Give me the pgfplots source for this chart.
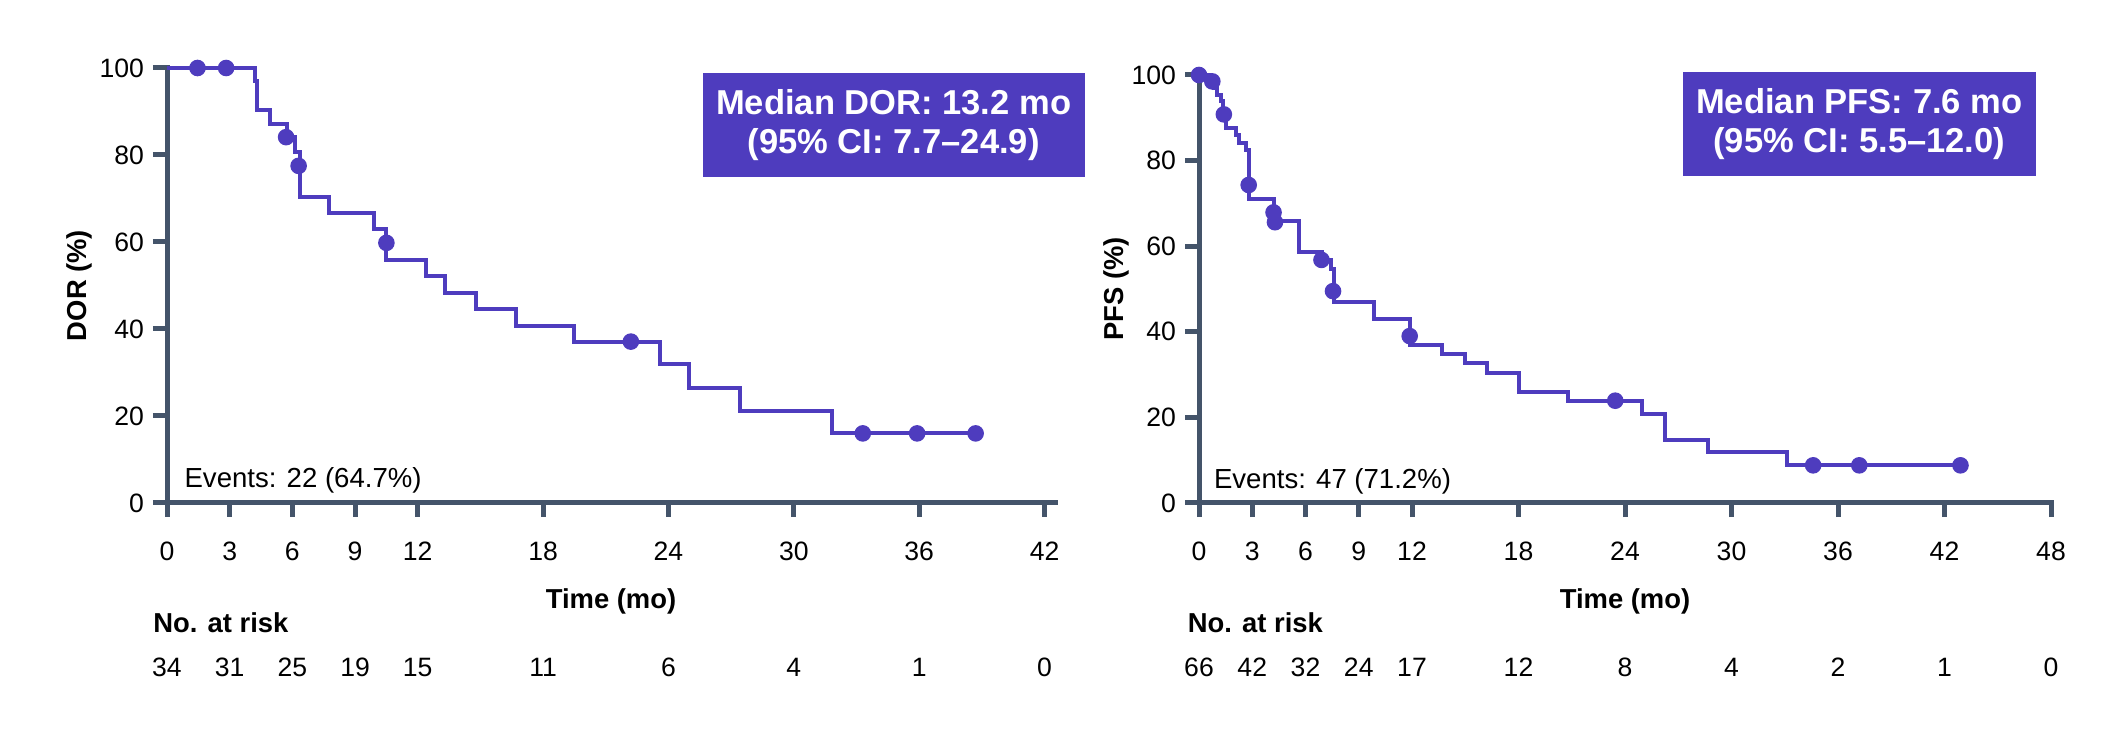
\documentclass[border=0pt]{standalone}
\usepackage{fontspec}
\setmainfont{Liberation Sans}
\usepackage{pgfplots}
\pgfplotsset{compat=1.18}
\definecolor{km}{RGB}{78,60,190}
\definecolor{ax}{RGB}{68,84,106}
\tikzset{risk/.style={anchor=base, inner sep=0pt, font=\fontsize{8}{9.6}\selectfont}}

\pgfplotstableread{
x y
0 100
4.2 97.0
4.3 90.4
4.94 87.2
5.75 84.1
6.14 80.6
6.35 70.4
7.75 66.7
9.91 63.1
10.5 55.8
12.4 52.1
13.3 48.3
14.8 44.5
16.7 40.8
19.5 37.1
23.6 31.9
24.96 26.5
27.4 21.2
31.85 16.0
38.7 16.0
}\dorcurve
\pgfplotstableread{
x y
1.46 100
2.83 100
5.7 84.1
6.3 77.5
10.5 59.8
22.2 37.1
33.3 16.0
35.9 16.0
38.7 16.0
}\dorcens
\pgfplotstableread{
x y
0 100
0.6 98.5
0.85 97.0
1.0 95.3
1.25 93.9
1.35 90.8
1.5 87.6
2.07 86.0
2.25 84.1
2.65 82.5
2.8 71.0
4.25 65.8
5.64 58.6
6.95 56.8
7.45 54.6
7.6 47.0
9.84 43.1
11.9 36.9
13.7 34.7
14.97 32.6
16.2 30.4
18.0 26.0
20.8 23.9
24.93 20.9
26.25 14.8
28.7 11.8
33.1 8.8
42.9 8.8
}\pfscurve
\pgfplotstableread{
x y
0 100
0.75 98.5
1.4 90.8
2.8 74.3
4.2 67.9
4.28 65.6
6.9 56.8
7.55 49.5
11.87 39.0
23.45 23.9
34.6 8.8
37.2 8.8
42.9 8.8
}\pfscens

\pgfplotsset{kmaxis/.style={
  scale only axis,
  axis lines=left,
  axis line style={-, line width=1.5bp, color=ax, line cap=rect},
  every outer x axis line/.append style={-},
  every outer y axis line/.append style={-},
  tick align=outside,
  major tick length=4.2bp,
  major tick style={line width=1.5bp, color=ax},
  ymin=0, ymax=100, ytick={0,20,40,60,80,100},
  xmin=0,
  clip=false,
  tick label style={font=\fontsize{8}{9.6}\selectfont, text=black},
  /pgf/number format/assume math mode=true,
  xticklabel style={yshift=-3.9bp},
  yticklabel style={xshift=0.8bp},
  xlabel style={font=\bfseries\fontsize{8.25}{10}\selectfont, at={(axis description cs:0.5,0)}, anchor=center, yshift=-29.4bp},
  ylabel style={font=\bfseries\fontsize{8.25}{10}\selectfont, anchor=center},
  xlabel={Time (mo)},
}}

\begin{document}
\begin{tikzpicture}
\path[use as bounding box] (0,0) rectangle (638.1bp,219.9bp);

% ---------- Left: DOR ----------
\begin{axis}[kmaxis,
  at={(50.1bp,69bp)}, anchor=south west,
  width=266.4bp, height=130.5bp,
  xmax=42.5,
  xtick={0,3,6,9,12,18,24,30,36,42},
  ylabel={DOR (\%)},
  ylabel style={at={(axis description cs:-0.099,0.5)}},
]
\addplot[const plot, color=km, line width=1.2bp] table[x=x,y=y] {\dorcurve};
\addplot[only marks, mark=*, mark size=2.3pt, color=km] table[x=x,y=y] {\dorcens};
\node[anchor=base west, inner sep=0pt, font=\fontsize{8.3}{10}\selectfont] at (axis cs:0.81,3.45) {Events: 22 (64.7\%)};
\node[fill=km, text=white, font=\bfseries\fontsize{10.4}{11.7}\selectfont, align=center, minimum width=114.6bp, minimum height=31.4bp, inner sep=0pt] at (axis cs:34.78,86.9) {Median DOR: 13.2 mo\\(95\% CI: 7.7–24.9)};
\node[anchor=west, inner sep=0pt, font=\bfseries\fontsize{8.25}{10}\selectfont] at (axis cs:-0.68,-27.6) {No. at risk};
\node[risk] at (axis cs:0,-40.0) {34};
\node[risk] at (axis cs:3,-40.0) {31};
\node[risk] at (axis cs:6,-40.0) {25};
\node[risk] at (axis cs:9,-40.0) {19};
\node[risk] at (axis cs:12,-40.0) {15};
\node[risk] at (axis cs:18,-40.0) {11};
\node[risk] at (axis cs:24,-40.0) {6};
\node[risk] at (axis cs:30,-40.0) {4};
\node[risk] at (axis cs:36,-40.0) {1};
\node[risk] at (axis cs:42,-40.0) {0};
\end{axis}

% ---------- Right: PFS ----------
\begin{axis}[kmaxis,
  at={(359.7bp,69bp)}, anchor=south west,
  width=255.6bp, height=128.4bp,
  xmax=48,
  xtick={0,3,6,9,12,18,24,30,36,42,48},
  ylabel={PFS (\%)},
  ylabel style={at={(axis description cs:-0.0974,0.5)}},
]
\addplot[const plot, color=km, line width=1.2bp] table[x=x,y=y] {\pfscurve};
\addplot[only marks, mark=*, mark size=2.3pt, color=km] table[x=x,y=y] {\pfscens};
\node[anchor=base west, inner sep=0pt, font=\fontsize{8.3}{10}\selectfont] at (axis cs:0.81,3.43) {Events: 47 (71.2\%)};
\node[fill=km, text=white, font=\bfseries\fontsize{10.4}{11.7}\selectfont, align=center, minimum width=106bp, minimum height=31.2bp, inner sep=0pt] at (axis cs:37.2,88.45) {Median PFS: 7.6 mo\\(95\% CI: 5.5–12.0)};
\node[anchor=west, inner sep=0pt, font=\bfseries\fontsize{8.25}{10}\selectfont] at (axis cs:-0.66,-28.0) {No. at risk};
\node[risk] at (axis cs:0,-40.65) {66};
\node[risk] at (axis cs:3,-40.65) {42};
\node[risk] at (axis cs:6,-40.65) {32};
\node[risk] at (axis cs:9,-40.65) {24};
\node[risk] at (axis cs:12,-40.65) {17};
\node[risk] at (axis cs:18,-40.65) {12};
\node[risk] at (axis cs:24,-40.65) {8};
\node[risk] at (axis cs:30,-40.65) {4};
\node[risk] at (axis cs:36,-40.65) {2};
\node[risk] at (axis cs:42,-40.65) {1};
\node[risk] at (axis cs:48,-40.65) {0};
\end{axis}
\end{tikzpicture}
\end{document}
